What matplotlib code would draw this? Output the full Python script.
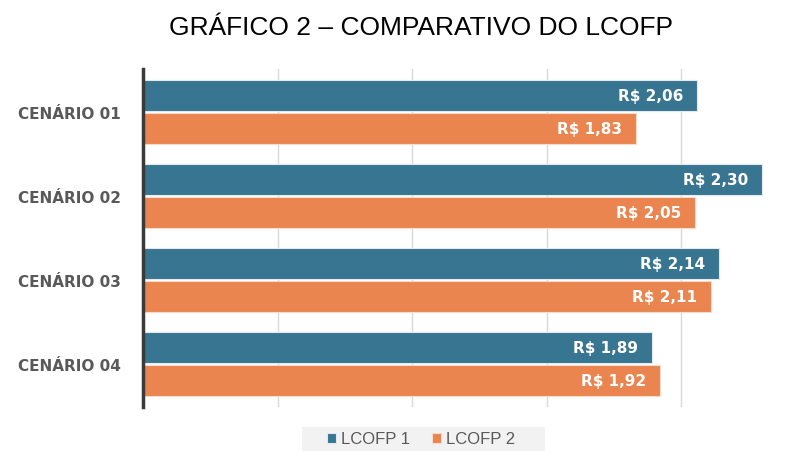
import matplotlib.pyplot as plt
from matplotlib.patches import Rectangle
import numpy as np

# data
cenarios = ['CENÁRIO 01', 'CENÁRIO 02', 'CENÁRIO 03', 'CENÁRIO 04']
lcofp1 = [2.06, 2.30, 2.14, 1.89]
lcofp2 = [1.83, 2.05, 2.11, 1.92]
series_names = ['LCOFP 1', 'LCOFP 2']

blue = '#377591'
orange = '#EA854F'

fig = plt.figure(figsize=(8.02, 4.52), dpi=100)
ax = fig.add_axes([143 / 802, 1 - 408 / 452, (789 - 143) / 802, (408 - 70) / 452])

y = np.arange(len(cenarios))
h = 0.37
b1 = ax.barh(y - h / 2 - 0.01, lcofp1, height=h, color=blue, edgecolor='#dfe9ee',
             linewidth=0.8, label=series_names[0], zorder=2)
b2 = ax.barh(y + h / 2 + 0.01, lcofp2, height=h, color=orange, edgecolor='#f7dccd',
             linewidth=0.8, label=series_names[1], zorder=2)

# value labels inside bar ends
for bars, vals in [(b1, lcofp1), (b2, lcofp2)]:
    for bar, v in zip(bars, vals):
        ax.text(v - 0.052, bar.get_y() + bar.get_height() / 2,
                'R$ ' + f'{v:.2f}'.replace('.', ','),
                ha='right', va='center', color='white', fontsize=11,
                fontweight='bold', family='DejaVu Sans', zorder=3)

ax.set_xlim(0, 2.4)
ax.set_ylim(3.51, -0.51)
ax.set_xticks([0.5, 1.0, 1.5, 2.0])
ax.set_xticklabels([])
ax.tick_params(axis='x', length=0)
ax.set_yticks(y)
ax.set_yticklabels(cenarios, fontsize=11, color='#595959', fontweight='bold',
                   family='DejaVu Sans')
ax.tick_params(axis='y', length=0, pad=16)
ax.grid(axis='x', color='#d9d9d9', linewidth=1, zorder=0)
ax.set_axisbelow(True)

for s in ['top', 'right', 'bottom']:
    ax.spines[s].set_visible(False)
ax.spines['left'].set_color('#3a3a3a')
ax.spines['left'].set_linewidth(2.5)
ax.spines['left'].set_zorder(4)

fig.text(421 / 802, 1 - 28 / 452, 'GRÁFICO 2 – COMPARATIVO DO LCOFP',
         ha='center', va='center', fontsize=19, family='Liberation Sans', color='black')

# light grey band behind the legend
fig.patches.append(Rectangle((302 / 802, 0), (545 - 302) / 802, 24 / 452,
                             transform=fig.transFigure, facecolor='#f2f2f2',
                             edgecolor='none', zorder=0))

leg = fig.legend(handles=[b1, b2], loc='center', bbox_to_anchor=(421 / 802, 1 - 440 / 452),
                 ncol=2, frameon=False, fontsize=12, handlelength=0.55, handleheight=0.55,
                 handletextpad=0.3, columnspacing=1.3, borderpad=0.2)
for t in leg.get_texts():
    t.set_color('#595959')
    t.set_family('Liberation Sans')

fig.savefig('out.png', dpi=100)
